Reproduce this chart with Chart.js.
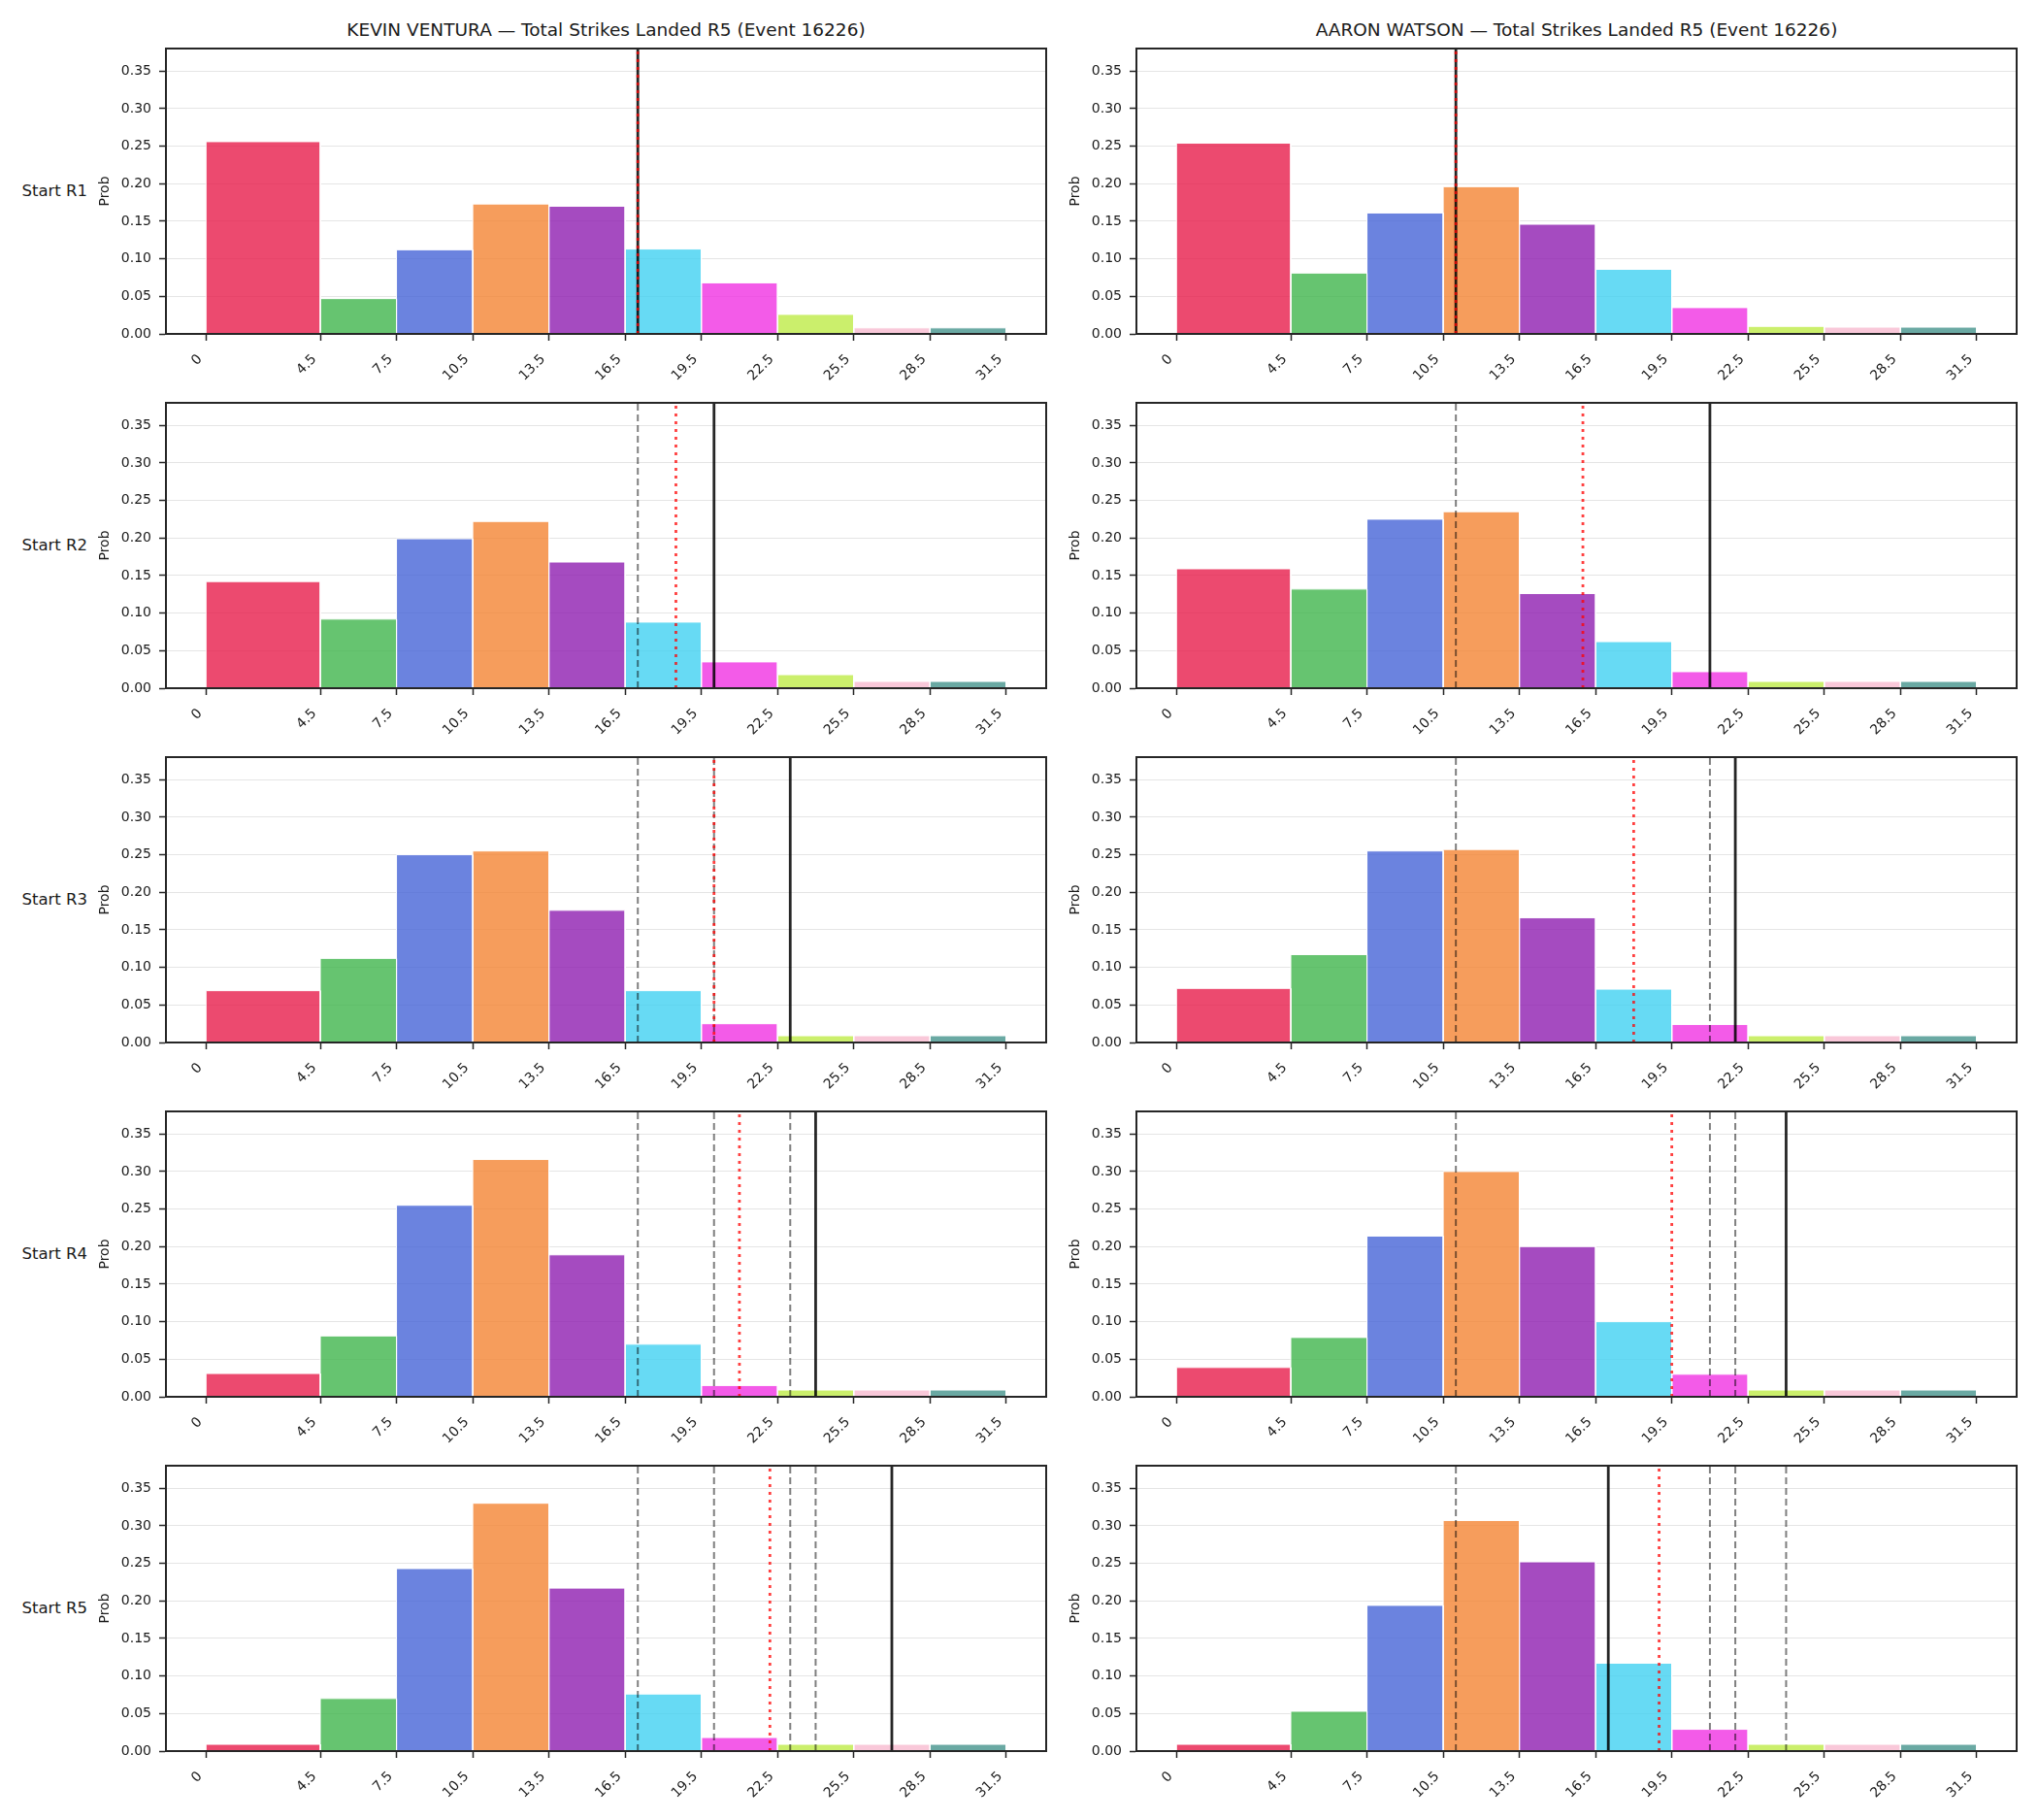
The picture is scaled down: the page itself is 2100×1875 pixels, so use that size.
<!DOCTYPE html>
<html>
<head>
<meta charset="utf-8">
<script src="https://cdn.jsdelivr.net/npm/chart.js@4.4.1/dist/chart.umd.min.js"></script>
<style>
  body { margin: 0; background: #fff; }
  #fig { position: relative; width: 2100px; height: 1875px; font-family: "DejaVu Sans", sans-serif; color: #1a1a1a; overflow: hidden; }
  #fig canvas { position: absolute; }
  .title { position: absolute; text-align: center; font-size: 18.5px; line-height: 22px; white-space: nowrap; }
  .row-label { position: absolute; text-align: right; font-size: 16.5px; line-height: 20px; white-space: nowrap; }
</style>
</head>
<body>
<div id="fig"></div>
<script>
// histogram bins (first bin is wider) and axis ticks
const BIN_EDGES = [0, 4.5, 7.5, 10.5, 13.5, 16.5, 19.5, 22.5, 25.5, 28.5, 31.5];
const X_TICKS = [0, 4.5, 7.5, 10.5, 13.5, 16.5, 19.5, 22.5, 25.5, 28.5, 31.5];
const Y_TICKS = [0, 0.05, 0.10, 0.15, 0.20, 0.25, 0.30, 0.35];
const ROW_LABELS = ["Start R1", "Start R2", "Start R3", "Start R4", "Start R5"];
const TITLES = [
    "KEVIN VENTURA — Total Strikes Landed R5 (Event 16226)",
    "AARON WATSON — Total Strikes Landed R5 (Event 16226)",
];

const BIN_COLORS = [
    "rgba(231,29,75,0.8)",
    "rgba(64,181,76,0.8)",
    "rgba(70,100,215,0.8)",
    "rgba(244,133,51,0.8)",
    "rgba(142,30,176,0.8)",
    "rgba(65,209,241,0.8)",
    "rgba(240,50,226,0.8)",
    "rgba(190,235,71,0.8)",
    "rgba(247,186,208,0.8)",
    "rgba(69,148,140,0.8)",
];

// * probability per bin, one row per starting round
const VENTURA_PROBS = [
    [0.256, 0.047, 0.112, 0.173, 0.170, 0.113, 0.068, 0.026, 0.008, 0.008],
    [0.142, 0.092, 0.199, 0.222, 0.168, 0.088, 0.035, 0.018, 0.009, 0.009],
    [0.069, 0.112, 0.250, 0.255, 0.176, 0.069, 0.025, 0.009, 0.009, 0.009],
    [0.031, 0.081, 0.255, 0.316, 0.189, 0.070, 0.015, 0.009, 0.009, 0.009],
    [0.009, 0.070, 0.243, 0.330, 0.217, 0.076, 0.018, 0.009, 0.009, 0.009],
];
const WATSON_PROBS = [
    [0.254, 0.081, 0.161, 0.196, 0.146, 0.086, 0.035, 0.010, 0.009, 0.009],
    [0.159, 0.132, 0.225, 0.235, 0.126, 0.062, 0.022, 0.009, 0.009, 0.009],
    [0.072, 0.117, 0.255, 0.257, 0.166, 0.071, 0.024, 0.009, 0.009, 0.009],
    [0.039, 0.079, 0.214, 0.300, 0.200, 0.100, 0.030, 0.009, 0.009, 0.009],
    [0.009, 0.053, 0.194, 0.307, 0.252, 0.117, 0.029, 0.009, 0.009, 0.009],
];

// * solid line = actual, dotted red = projection, dashed = earlier actuals
const VENTURA_ACTUAL = [17, 20, 23, 24, 27];
const VENTURA_PROJ = [17, 18.5, 20, 21, 22.2];
const WATSON_ACTUAL = [11, 21, 22, 24, 17];
const WATSON_PROJ = [11, 16, 18, 19.5, 19];

const X_MIN = -1.575;
const X_MAX = 33.075;
const Y_MAX = 0.38;

// layout (px)
const COL_LEFT = [171, 1171];
const ROW_TOP = [50, 415, 780, 1145, 1510];
const PLOT_W = 907;
const PLOT_H = 294;
const AX_W = 76;
const AX_H = 70;
const PAD_T = 12;
const PAD_R = 12;

Chart.defaults.font.family = "'DejaVu Sans', sans-serif";
Chart.defaults.color = "#1a1a1a";

const fig = document.getElementById("fig");

const framePlugin = {
    id: "frame",
    afterDraw(chart) {
        const { ctx, chartArea: a } = chart;
        ctx.save();
        ctx.strokeStyle = "#262626";
        ctx.lineWidth = 2;
        ctx.strokeRect(a.left, a.top, a.right - a.left, a.bottom - a.top);
        ctx.restore();
    },
};

function vline(x, color, width, dash, order) {
    return {
        type: "line",
        data: [{ x: x, y: 0 }, { x: x, y: Y_MAX }],
        borderColor: color,
        borderWidth: width,
        borderDash: dash,
        borderCapStyle: "butt",
        pointRadius: 0,
        fill: false,
        order: order,
    };
}

function binShape(i, p) {
    const x0 = BIN_EDGES[i];
    const x1 = BIN_EDGES[i + 1];
    return {
        type: "line",
        data: [{ x: x0, y: 0 }, { x: x0, y: p }, { x: x1, y: p }, { x: x1, y: 0 }],
        borderColor: "#ffffff",
        borderWidth: 1,
        backgroundColor: BIN_COLORS[i],
        fill: "origin",
        pointRadius: 0,
        tension: 0,
        order: 3,
    };
}

function makePanel(col, row, probs, actual, proj) {
    const canvas = document.createElement("canvas");
    canvas.width = AX_W + PLOT_W + PAD_R;
    canvas.height = PAD_T + PLOT_H + AX_H;
    canvas.style.left = COL_LEFT[col] - AX_W + "px";
    canvas.style.top = ROW_TOP[row] - PAD_T + "px";
    fig.appendChild(canvas);

    const datasets = [];
    datasets.push(vline(proj[row], "rgba(255,0,0,0.75)", 2.8, [3, 5], 0));
    datasets.push(vline(actual[row], "rgba(0,0,0,0.85)", 2.8, [], 1));
    for (let k = 0; k < row; k++) {
        datasets.push(vline(actual[k], "rgba(0,0,0,0.5)", 2, [7, 4], 2));
    }
    probs[row].forEach((p, i) => datasets.push(binShape(i, p)));

    new Chart(canvas, {
        type: "line",
        data: { datasets: datasets },
        options: {
            responsive: false,
            animation: false,
            events: [],
            layout: { padding: { left: 0, top: PAD_T, right: PAD_R, bottom: 0 } },
            plugins: { legend: { display: false }, tooltip: { enabled: false } },
            scales: {
                x: {
                    type: "linear",
                    min: X_MIN,
                    max: X_MAX,
                    afterBuildTicks: (s) => { s.ticks = X_TICKS.map((v) => ({ value: v })); },
                    afterFit: (s) => {
                        s.height = AX_H;
                        s.paddingLeft = 0;
                        s.paddingRight = 0;
                    },
                    ticks: {
                        autoSkip: false,
                        minRotation: 45,
                        maxRotation: 45,
                        padding: 11,
                        labelOffset: -6,
                        font: { size: 14 },
                        color: "#1a1a1a",
                        callback: (v) => String(v),
                    },
                    grid: { drawOnChartArea: false, drawTicks: true, tickLength: 7, tickColor: "#262626", tickWidth: 1.5 },
                    border: { display: true, color: "#262626", width: 2 },
                },
                y: {
                    type: "linear",
                    min: 0,
                    max: Y_MAX,
                    afterBuildTicks: (s) => { s.ticks = Y_TICKS.map((v) => ({ value: v })); },
                    afterFit: (s) => {
                        s.width = AX_W;
                        s.paddingTop = 0;
                        s.paddingBottom = 0;
                    },
                    ticks: {
                        padding: 8,
                        font: { size: 14 },
                        color: "#1a1a1a",
                        callback: (v) => Number(v).toFixed(2),
                    },
                    grid: { color: "#e5e5e5", lineWidth: 1, tickLength: 7, tickColor: "#262626", tickWidth: 1.5 },
                    border: { display: true, color: "#262626", width: 2 },
                    title: { display: true, text: "Prob", font: { size: 14 }, color: "#1a1a1a", padding: { top: 5, bottom: 0 } },
                },
            },
        },
        plugins: [framePlugin],
    });
}

// column titles
TITLES.forEach((t, col) => {
    const d = document.createElement("div");
    d.className = "title";
    d.textContent = t;
    d.style.left = COL_LEFT[col] + "px";
    d.style.width = PLOT_W + "px";
    d.style.top = "20px";
    fig.appendChild(d);
});

// row labels on the left
ROW_LABELS.forEach((t, row) => {
    const d = document.createElement("div");
    d.className = "row-label";
    d.textContent = t;
    d.style.left = "0px";
    d.style.width = "90px";
    d.style.top = ROW_TOP[row] + PLOT_H / 2 - 10 + "px";
    fig.appendChild(d);
});

for (let row = 0; row < 5; row++) {
    makePanel(0, row, VENTURA_PROBS, VENTURA_ACTUAL, VENTURA_PROJ);
    makePanel(1, row, WATSON_PROBS, WATSON_ACTUAL, WATSON_PROJ);
}
</script>
</body>
</html>
